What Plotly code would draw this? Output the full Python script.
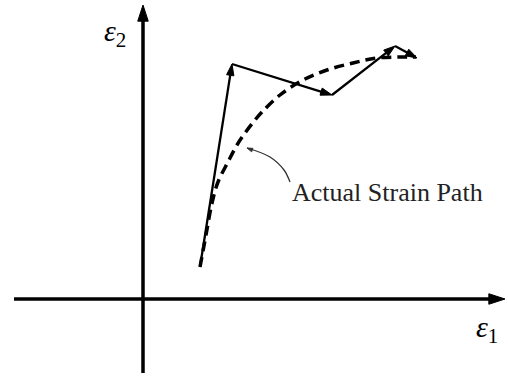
import plotly.graph_objects as go

# Incremental (solid) strain path, in strain units (ε1, ε2)
path_e1 = [0.57, 0.89, 1.89, 2.52, 2.74]
path_e2 = [0.32, 2.35, 2.04, 2.53, 2.41]

# Actual (dashed) strain path
actual_e1 = [0.57, 0.63, 0.69, 0.75, 0.85, 0.94, 1.02, 1.12, 1.19, 1.37,
             1.60, 1.84, 2.10, 2.34, 2.57, 2.73]
actual_e2 = [0.32, 0.64, 0.96, 1.17, 1.37, 1.54, 1.66, 1.79, 1.87, 2.04,
             2.19, 2.29, 2.36, 2.41, 2.42, 2.42]

# Leader from the label to the dashed curve
callout_e1 = [1.47, 1.41, 1.27, 1.04]
callout_e2 = [1.17, 1.29, 1.42, 1.51]
callout_text = "Actual Strain Path"

# Coordinate axes (start, tip)
axis1_e1 = [-1.29, 3.62]
axis1_e2 = [0.0, 0.0]
axis2_e1 = [0.0, 0.0]
axis2_e2 = [-0.74, 2.94]
axis1_label = "<i>ε</i><sub>1</sub>"
axis2_label = "<i>ε</i><sub>2</sub>"

BLACK = "#000000"
SERIF = "Liberation Serif, Times New Roman, serif"

fig = go.Figure()


def arrow_sizes(n, head, first=0):
    return [0 if i < first else head for i in range(n)]


def arrow_marker(sizes, color):
    return dict(symbol="arrow", angleref="previous", size=sizes,
                color=color, opacity=1, line=dict(width=1, color=color))


# axes with arrow tips
for xs, ys in ((axis1_e1, axis1_e2), (axis2_e1, axis2_e2)):
    fig.add_trace(go.Scatter(
        x=xs, y=ys, mode="lines+markers",
        line=dict(color=BLACK, width=3.5),
        marker=arrow_marker([0, 17], BLACK),
        hoverinfo="skip", showlegend=False,
    ))

# actual strain path (dashed)
fig.add_trace(go.Scatter(
    x=actual_e1, y=actual_e2, mode="lines",
    line=dict(color=BLACK, width=3.5, dash="10px,6px", shape="spline"),
    hoverinfo="skip", showlegend=False,
))

# incremental strain path with arrows at each vertex
fig.add_trace(go.Scatter(
    x=path_e1, y=path_e2, mode="lines+markers",
    line=dict(color=BLACK, width=2.3),
    marker=arrow_marker(arrow_sizes(len(path_e1), 12, first=1), BLACK),
    hoverinfo="skip", showlegend=False,
))

# callout leader
fig.add_trace(go.Scatter(
    x=callout_e1, y=callout_e2, mode="lines+markers",
    line=dict(color="#333333", width=1.3, shape="spline"),
    marker=arrow_marker(arrow_sizes(len(callout_e1), 6,
                                    first=len(callout_e1) - 1), "#333333"),
    hoverinfo="skip", showlegend=False,
))

fig.add_annotation(x=callout_e1[0], y=1.07, text=callout_text,
                   xanchor="left", yanchor="middle", showarrow=False,
                   font=dict(family=SERIF, size=26, color="#222222"))
fig.add_annotation(x=-0.415, y=2.66, text=axis2_label,
                   xanchor="left", yanchor="middle", showarrow=False,
                   font=dict(family=SERIF, size=30, color=BLACK))
fig.add_annotation(x=3.31, y=-0.30, text=axis1_label,
                   xanchor="left", yanchor="middle", showarrow=False,
                   font=dict(family=SERIF, size=30, color=BLACK))

fig.update_xaxes(range=[-1.43, 3.65], visible=False, fixedrange=True)
fig.update_yaxes(range=[-0.79, 2.99], visible=False, fixedrange=True)
fig.update_layout(
    width=508, height=378,
    margin=dict(l=0, r=0, t=0, b=0),
    paper_bgcolor="white", plot_bgcolor="white",
)

fig.write_html("out.html")
